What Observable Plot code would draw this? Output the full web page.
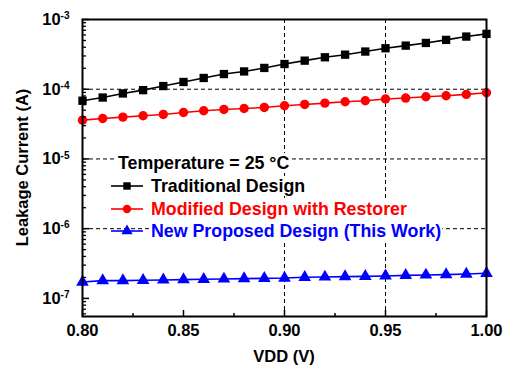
<!DOCTYPE html>
<html>
<head>
<meta charset="utf-8">
<script src="https://cdn.jsdelivr.net/npm/d3@7"></script>
<script src="https://cdn.jsdelivr.net/npm/@observablehq/plot@0.6"></script>
<style>
  html, body { margin: 0; padding: 0; background: #fff; }
  #chart { width: 511px; height: 366px; }
</style>
</head>
<body>
<div id="chart"></div>
<script>
// ---- Data ----
const vdd = [0.80, 0.81, 0.82, 0.83, 0.84, 0.85, 0.86, 0.87, 0.88, 0.89, 0.90,
             0.91, 0.92, 0.93, 0.94, 0.95, 0.96, 0.97, 0.98, 0.99, 1.00];
const traditional = [6.84e-5, 7.6e-5, 8.7e-5, 9.7e-5, 1.11e-4, 1.27e-4, 1.45e-4, 1.65e-4, 1.80e-4, 2.02e-4, 2.30e-4,
                     2.57e-4, 2.87e-4, 3.13e-4, 3.47e-4, 3.87e-4, 4.22e-4, 4.61e-4, 5.10e-4, 5.69e-4, 6.22e-4];
const modified = [3.60e-5, 3.80e-5, 3.98e-5, 4.16e-5, 4.35e-5, 4.64e-5, 4.91e-5, 5.13e-5, 5.30e-5, 5.48e-5, 5.79e-5,
                  6.05e-5, 6.32e-5, 6.61e-5, 6.84e-5, 7.23e-5, 7.47e-5, 7.80e-5, 8.06e-5, 8.43e-5, 8.91e-5];
const proposed = [1.72e-7, 1.80e-7, 1.80e-7, 1.82e-7, 1.84e-7, 1.86e-7, 1.88e-7, 1.90e-7, 1.92e-7, 1.94e-7, 1.96e-7,
                  2.01e-7, 2.03e-7, 2.05e-7, 2.07e-7, 2.10e-7, 2.14e-7, 2.17e-7, 2.19e-7, 2.24e-7, 2.29e-7];

const seriesNames = ["Traditional Design", "Modified Design with Restorer", "New Proposed Design (This Work)"];
const seriesColors = ["#000000", "#ff0000", "#0000ff"];
const seriesSymbols = ["square", "circle", "triangle"];
const legendTitle = "Temperature = 25 °C";

const xTicks = [0.80, 0.85, 0.90, 0.95, 1.00];
const xMinorTicks = [0.825, 0.875, 0.925, 0.975];
const xGrid = [0.90, 0.95];
const yTicks = [1e-7, 1e-6, 1e-5, 1e-4, 1e-3];
const yGrid = [1e-6, 1e-5, 1e-4];
const yDomain = [5.5e-8, 1e-3];
const xLabel = "VDD (V)";
const yLabel = "Leakage Current (A)";

// minor decade ticks (2..9 × 10^e) inside the domain
const yMinorTicks = [];
for (let e = -8; e <= -4; e++) for (let k = 2; k <= 9; k++) {
  const v = k * Math.pow(10, e);
  if (v > yDomain[0] && v < yDomain[1]) yMinorTicks.push(v);
}

const seriesValues = [traditional, modified, proposed];
const rows = [];
seriesNames.forEach((name, i) => vdd.forEach((v, j) => rows.push({series: name, vdd: v, current: seriesValues[i][j]})));

// ---- Layout ----
const W = 511, H = 366;
const mL = 82, mR = 25, mT = 19, mB = 50;
const innerW = W - mL - mR, innerH = H - mT - mB;
const FONT = "'Liberation Sans', Arial, Helvetica, sans-serif";

const plot = Plot.plot({
  width: W, height: H,
  marginLeft: mL, marginRight: mR, marginTop: mT, marginBottom: mB,
  style: {fontFamily: FONT, fontWeight: "bold", fontSize: "16px", background: "#fff", color: "#000", overflow: "visible"},
  x: {domain: [0.80, 1.00]},
  y: {type: "log", domain: yDomain},
  color: {domain: seriesNames, range: seriesColors},
  symbol: {domain: seriesNames, range: seriesSymbols},
  marks: [
    Plot.ruleX(xGrid, {stroke: "#000", strokeWidth: 1, strokeDasharray: "4,3"}),
    Plot.ruleY(yGrid, {stroke: "#000", strokeWidth: 1, strokeDasharray: "4,3"}),
    Plot.line(rows, {x: "vdd", y: "current", z: "series", stroke: "series", strokeWidth: 1.6}),
    Plot.dot(rows, {x: "vdd", y: "current", symbol: "series", fill: "series", stroke: "none", r: 4.7}),
    // inward ticks
    Plot.ruleY(yMinorTicks, {stroke: "#000", strokeWidth: 1.3, insetRight: innerW - 4}),
    Plot.ruleY(yTicks, {stroke: "#000", strokeWidth: 1.5, insetRight: innerW - 7}),
    Plot.ruleX(xMinorTicks, {stroke: "#000", strokeWidth: 1.5, insetTop: innerH - 3}),
    Plot.ruleX(xTicks, {stroke: "#000", strokeWidth: 1.5, insetTop: innerH - 6}),
    Plot.frame({stroke: "#000", strokeWidth: 2}),
    Plot.axisX({ticks: xTicks, tickFormat: d3.format(".2f"), tickSize: 0, tickPadding: 8, label: null, fontSize: 16.5, fontWeight: "bold"}),
    Plot.axisY({ticks: yTicks, tickFormat: d => "10^" + Math.round(Math.log10(d)), tickSize: 0, tickPadding: 13, label: null, fontSize: 16.5, fontWeight: "bold"})
  ]
});

document.getElementById("chart").appendChild(plot);

// superscript exponents on y tick labels
const svg = d3.select(plot);
svg.selectAll('g[aria-label="y-axis tick label"] text').each(function() {
  const t = this.textContent;
  const m = t.match(/^10\^(-?\d+)$/);
  if (!m) return;
  const sel = d3.select(this);
  sel.text(null);
  sel.append("tspan").text("10");
  sel.append("tspan").attr("dy", "-0.55em").attr("font-size", "10px").text(m[1]);
});

// ---- Axis titles ----
const titles = svg.append("g").attr("font-family", FONT).attr("font-weight", "bold").attr("font-size", "16.5px")
  .attr("text-anchor", "middle").attr("fill", "#000");
titles.append("text").attr("x", mL + innerW / 2).attr("y", 362).text(xLabel);
titles.append("text").attr("transform", `translate(28,${mT + innerH / 2}) rotate(-90)`).text(yLabel);

// ---- Legend (pixel layout inside the frame) ----
const legend = svg.append("g").attr("font-family", FONT).attr("font-weight", "bold").attr("font-size", "17.8px")
  .attr("text-anchor", "start");
const rowsLegend = [
  {text: legendTitle, color: "#000", x: 118, base: 169, symbol: null},
  {text: seriesNames[0], color: seriesColors[0], x: 151, base: 192, symbol: d3.symbolSquare},
  {text: seriesNames[1], color: seriesColors[1], x: 151, base: 215, symbol: d3.symbolCircle},
  {text: seriesNames[2], color: seriesColors[2], x: 151, base: 237, symbol: d3.symbolTriangle}
];
rowsLegend.forEach(r => {
  const bg = legend.append("rect").attr("fill", "#fff");
  const txt = legend.append("text").attr("x", r.x).attr("y", r.base).attr("fill", r.color).text(r.text);
  const bb = txt.node().getBBox();
  bg.attr("x", bb.x - 1).attr("y", bb.y).attr("width", bb.width + 2).attr("height", bb.height);
  if (r.symbol) {
    const cy = r.base - 6;
    legend.append("line").attr("x1", 111).attr("x2", 143).attr("y1", cy).attr("y2", cy)
      .attr("stroke", r.color).attr("stroke-width", 1.6);
    legend.append("path").attr("d", d3.symbol(r.symbol, Math.PI * 4.2 * 4.2)())
      .attr("transform", `translate(127,${cy})`).attr("fill", r.color);
  }
});
</script>
</body>
</html>
